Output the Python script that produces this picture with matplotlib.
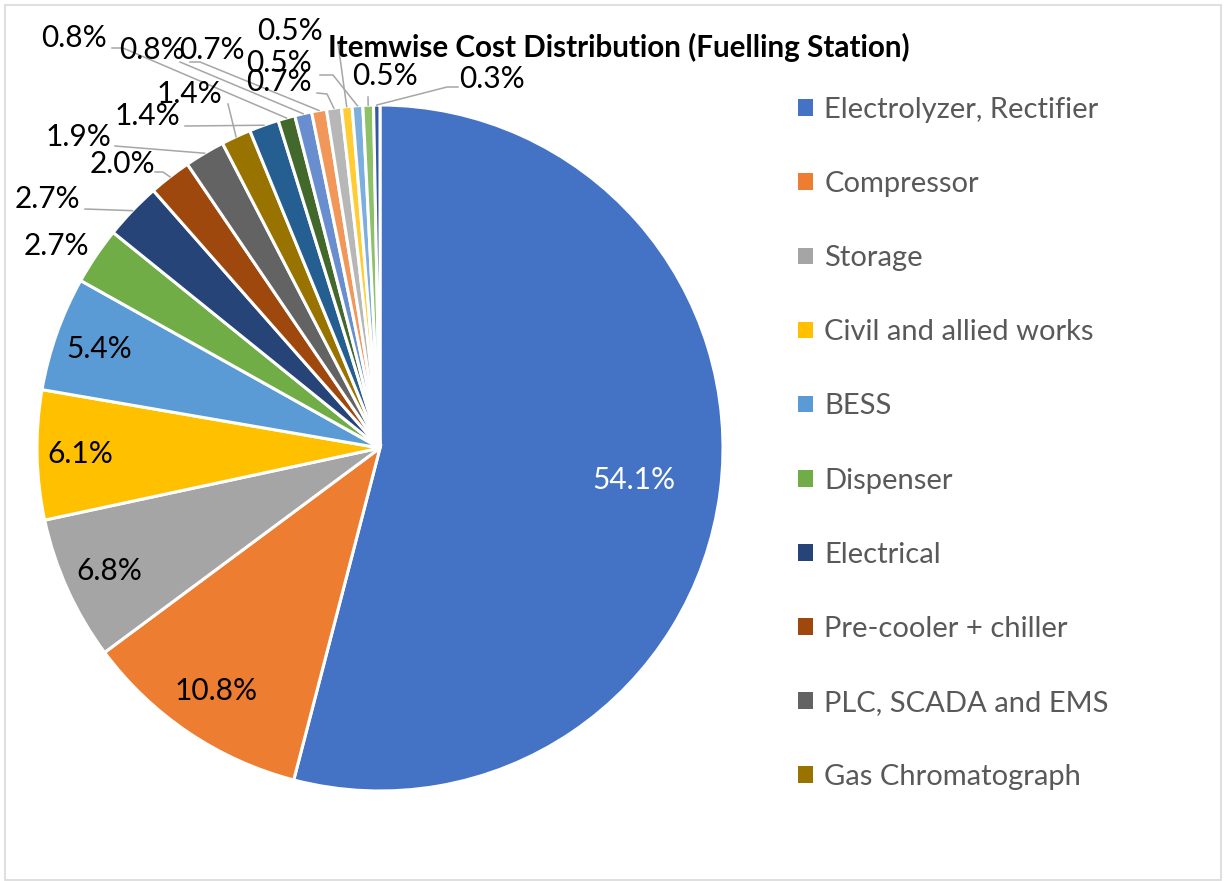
import numpy as np
import matplotlib
matplotlib.use('Agg')
import matplotlib.pyplot as plt
from matplotlib.patches import Rectangle

plt.rcParams['font.family'] = ['Lato', 'DejaVu Sans']

# =============================================================================
# Data
# =============================================================================
title = 'Itemwise Cost Distribution (Fuelling Station)'
categories = ['Electrolyzer, Rectifier', 'Compressor', 'Storage',
              'Civil and allied works', 'BESS', 'Dispenser', 'Electrical',
              'Pre-cooler + chiller', 'PLC, SCADA and EMS', 'Gas Chromatograph']
shares = [54.1, 10.8, 6.8, 6.1, 5.4, 2.7, 2.7, 2.0, 1.9, 1.4,
          1.4, 0.8, 0.8, 0.7, 0.7, 0.5, 0.5, 0.5, 0.3]

colors = ['#4472C4', '#ED7D31', '#A5A5A5', '#FFC000', '#5B9BD5', '#70AD47',
          '#264478', '#9E480E', '#636363', '#997300', '#255E91', '#43682B',
          '#698ED0', '#F1975A', '#B7B7B7', '#FFCD33', '#7CAFDD', '#8CC168',
          '#335AA1']

# label placement (pixels of the 1227x881 canvas)
W, H = 1227, 881
CX, CY, R = 380, 448, 343
inside_r = {0: 0.745, 1: 0.855, 2: 0.866, 3: 0.875, 4: 0.868}
label_px = {5: (56, 246), 6: (47, 199), 7: (122, 164), 8: (78, 137),
            9: (189, 94), 10: (147, 116), 11: (74, 38), 12: (152, 50),
            13: (212, 50), 14: (279, 82), 15: (290, 31), 16: (279, 63),
            17: (385, 76), 18: (492, 79)}
# leader line start (+ optional elbow) in pixels
leader_px = {6: [(85, 209)], 7: [(155, 172), (163, 172)], 8: [(115, 146)],
             9: [(228, 104)], 10: [(185, 126)],
             11: [(112, 48), (123, 48)], 12: [(180, 62)],
             13: [(190, 62), (200, 62)], 14: [(317, 93), (327, 94)],
             15: [(338, 43)], 16: [(320, 75), (333, 75)], 17: [(368, 97)],
             18: [(458, 87), (447, 87)]}

def px(p):
    return ((p[0] - CX) / R, (CY - p[1]) / R)

# =============================================================================
# Plot
# =============================================================================
fig = plt.figure(figsize=(W / 100, H / 100), dpi=100)
ax = fig.add_axes([0, 0, 1, 1])
wedges, _ = ax.pie(shares, colors=colors, startangle=90, counterclock=False,
                   radius=1, center=(0, 0),
                   wedgeprops=dict(edgecolor='white', linewidth=2.2))
ax.set_aspect('auto')
ax.set_xlim(-CX / R, (W - CX) / R)
ax.set_ylim(-(H - CY) / R, CY / R)
ax.axis('off')

for i, w in enumerate(wedges):
    mid = np.deg2rad((w.theta1 + w.theta2) / 2)
    txt = '%.1f%%' % shares[i]
    if i in inside_r:
        rr = inside_r[i]
        ax.text(rr * np.cos(mid), rr * np.sin(mid), txt, ha='center', va='center',
                fontsize=21.5, color='white' if i == 0 else 'black')
    else:
        lx, ly = px(label_px[i])
        ax.text(lx, ly, txt, ha='center', va='center', fontsize=21.5, color='black')
        if i in leader_px:
            pts = [px(p) for p in leader_px[i]] + [(np.cos(mid), np.sin(mid))]
            pts = np.array(pts)
            ax.plot(pts[:, 0], pts[:, 1], color='#A6A6A6', lw=1.1, zorder=1)

fig.text(619 / W, 1 - 47 / H, title, ha='center', va='center',
         fontsize=21.3, fontweight='bold', color='black')

leg = ax.legend(wedges[:len(categories)], categories, loc='upper left',
                bbox_to_anchor=(798 / W, 1 - 97 / H), frameon=False,
                fontsize=21, labelcolor='#595959', handlelength=0.5,
                handleheight=0.5, handletextpad=0.4, labelspacing=1.65,
                borderpad=0, borderaxespad=0)
for h in leg.legend_handles:
    h.set_edgecolor('none')

fig.patches.append(Rectangle((5 / W, 1 / H), 1216 / W, 875 / H, transform=fig.transFigure,
                             fill=False, edgecolor='#D9D9D9', lw=1.2))

fig.savefig('out.png', dpi=100)
